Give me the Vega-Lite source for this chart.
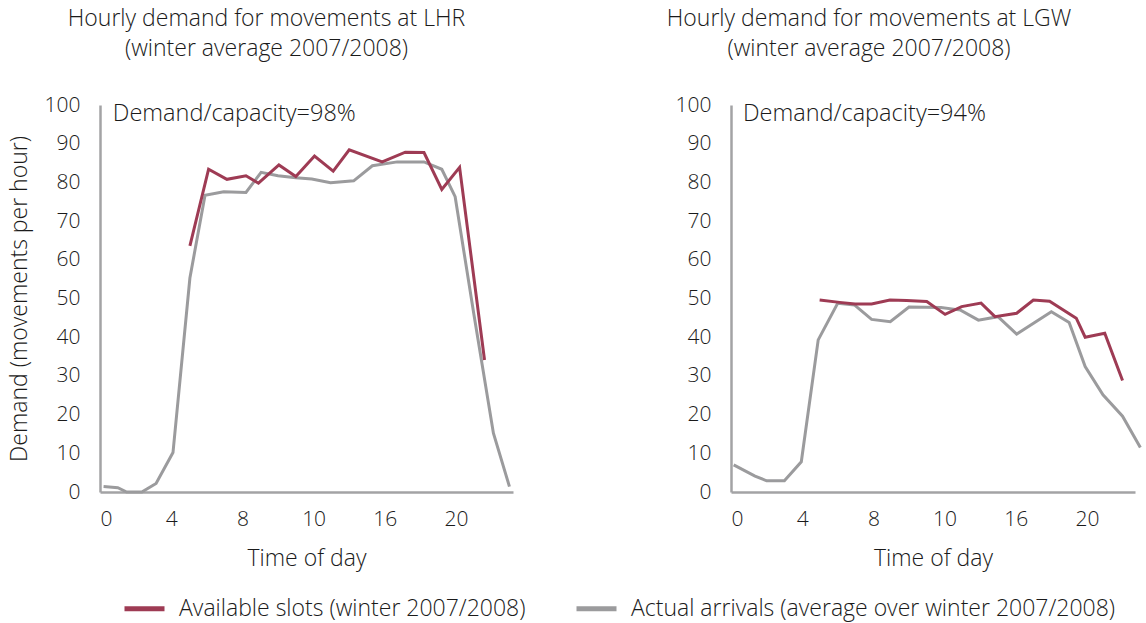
{
  "$schema": "https://vega.github.io/schema/vega-lite/v6.json",
  "padding": {"left": 8, "top": 8, "right": 4, "bottom": 4},
  "datasets": {
    "lines": [
      {"airport": "LHR", "series": "Actual arrivals (average over winter 2007/2008)", "hour": 0.2, "value": 1.4},
      {"airport": "LHR", "series": "Actual arrivals (average over winter 2007/2008)", "hour": 1.0, "value": 1.1},
      {"airport": "LHR", "series": "Actual arrivals (average over winter 2007/2008)", "hour": 1.5, "value": 0},
      {"airport": "LHR", "series": "Actual arrivals (average over winter 2007/2008)", "hour": 2.35, "value": 0},
      {"airport": "LHR", "series": "Actual arrivals (average over winter 2007/2008)", "hour": 3.15, "value": 2.2},
      {"airport": "LHR", "series": "Actual arrivals (average over winter 2007/2008)", "hour": 4.1, "value": 10.2},
      {"airport": "LHR", "series": "Actual arrivals (average over winter 2007/2008)", "hour": 5.05, "value": 55.3},
      {"airport": "LHR", "series": "Actual arrivals (average over winter 2007/2008)", "hour": 5.9, "value": 76.7},
      {"airport": "LHR", "series": "Actual arrivals (average over winter 2007/2008)", "hour": 6.95, "value": 77.6},
      {"airport": "LHR", "series": "Actual arrivals (average over winter 2007/2008)", "hour": 8.2, "value": 77.4},
      {"airport": "LHR", "series": "Actual arrivals (average over winter 2007/2008)", "hour": 9.05, "value": 82.6},
      {"airport": "LHR", "series": "Actual arrivals (average over winter 2007/2008)", "hour": 10.0, "value": 81.7},
      {"airport": "LHR", "series": "Actual arrivals (average over winter 2007/2008)", "hour": 11.0, "value": 81.2},
      {"airport": "LHR", "series": "Actual arrivals (average over winter 2007/2008)", "hour": 11.9, "value": 80.9},
      {"airport": "LHR", "series": "Actual arrivals (average over winter 2007/2008)", "hour": 12.95, "value": 79.9},
      {"airport": "LHR", "series": "Actual arrivals (average over winter 2007/2008)", "hour": 14.25, "value": 80.4},
      {"airport": "LHR", "series": "Actual arrivals (average over winter 2007/2008)", "hour": 15.3, "value": 84.3},
      {"airport": "LHR", "series": "Actual arrivals (average over winter 2007/2008)", "hour": 16.7, "value": 85.3},
      {"airport": "LHR", "series": "Actual arrivals (average over winter 2007/2008)", "hour": 18.2, "value": 85.3},
      {"airport": "LHR", "series": "Actual arrivals (average over winter 2007/2008)", "hour": 19.2, "value": 83.4},
      {"airport": "LHR", "series": "Actual arrivals (average over winter 2007/2008)", "hour": 19.95, "value": 76.3},
      {"airport": "LHR", "series": "Actual arrivals (average over winter 2007/2008)", "hour": 21.0, "value": 46},
      {"airport": "LHR", "series": "Actual arrivals (average over winter 2007/2008)", "hour": 22.1, "value": 15.2},
      {"airport": "LHR", "series": "Actual arrivals (average over winter 2007/2008)", "hour": 23.0, "value": 1.4},
      {"airport": "LGW", "series": "Actual arrivals (average over winter 2007/2008)", "hour": 0.15, "value": 7.0},
      {"airport": "LGW", "series": "Actual arrivals (average over winter 2007/2008)", "hour": 1.35, "value": 4.1},
      {"airport": "LGW", "series": "Actual arrivals (average over winter 2007/2008)", "hour": 2.0, "value": 2.9},
      {"airport": "LGW", "series": "Actual arrivals (average over winter 2007/2008)", "hour": 3.0, "value": 2.9},
      {"airport": "LGW", "series": "Actual arrivals (average over winter 2007/2008)", "hour": 3.95, "value": 7.8},
      {"airport": "LGW", "series": "Actual arrivals (average over winter 2007/2008)", "hour": 4.9, "value": 39.3},
      {"airport": "LGW", "series": "Actual arrivals (average over winter 2007/2008)", "hour": 6.0, "value": 48.8},
      {"airport": "LGW", "series": "Actual arrivals (average over winter 2007/2008)", "hour": 6.95, "value": 48.3},
      {"airport": "LGW", "series": "Actual arrivals (average over winter 2007/2008)", "hour": 7.9, "value": 44.6},
      {"airport": "LGW", "series": "Actual arrivals (average over winter 2007/2008)", "hour": 8.95, "value": 44.0},
      {"airport": "LGW", "series": "Actual arrivals (average over winter 2007/2008)", "hour": 10.0, "value": 47.8},
      {"airport": "LGW", "series": "Actual arrivals (average over winter 2007/2008)", "hour": 11.8, "value": 47.7},
      {"airport": "LGW", "series": "Actual arrivals (average over winter 2007/2008)", "hour": 12.9, "value": 47.0},
      {"airport": "LGW", "series": "Actual arrivals (average over winter 2007/2008)", "hour": 13.9, "value": 44.4},
      {"airport": "LGW", "series": "Actual arrivals (average over winter 2007/2008)", "hour": 15.0, "value": 45.3},
      {"airport": "LGW", "series": "Actual arrivals (average over winter 2007/2008)", "hour": 16.05, "value": 40.8},
      {"airport": "LGW", "series": "Actual arrivals (average over winter 2007/2008)", "hour": 18.0, "value": 46.6},
      {"airport": "LGW", "series": "Actual arrivals (average over winter 2007/2008)", "hour": 19.0, "value": 43.8},
      {"airport": "LGW", "series": "Actual arrivals (average over winter 2007/2008)", "hour": 19.9, "value": 32.4},
      {"airport": "LGW", "series": "Actual arrivals (average over winter 2007/2008)", "hour": 20.9, "value": 25.1},
      {"airport": "LGW", "series": "Actual arrivals (average over winter 2007/2008)", "hour": 22.0, "value": 19.6},
      {"airport": "LGW", "series": "Actual arrivals (average over winter 2007/2008)", "hour": 23.0, "value": 11.5},
      {"airport": "LHR", "series": "Available slots (winter 2007/2008)", "hour": 5.05, "value": 63.6},
      {"airport": "LHR", "series": "Available slots (winter 2007/2008)", "hour": 6.1, "value": 83.4},
      {"airport": "LHR", "series": "Available slots (winter 2007/2008)", "hour": 7.13, "value": 80.8},
      {"airport": "LHR", "series": "Available slots (winter 2007/2008)", "hour": 8.2, "value": 81.7},
      {"airport": "LHR", "series": "Available slots (winter 2007/2008)", "hour": 8.9, "value": 79.8},
      {"airport": "LHR", "series": "Available slots (winter 2007/2008)", "hour": 10.05, "value": 84.5},
      {"airport": "LHR", "series": "Available slots (winter 2007/2008)", "hour": 11.0, "value": 81.5},
      {"airport": "LHR", "series": "Available slots (winter 2007/2008)", "hour": 12.05, "value": 86.8},
      {"airport": "LHR", "series": "Available slots (winter 2007/2008)", "hour": 13.1, "value": 82.9},
      {"airport": "LHR", "series": "Available slots (winter 2007/2008)", "hour": 14.0, "value": 88.4},
      {"airport": "LHR", "series": "Available slots (winter 2007/2008)", "hour": 15.85, "value": 85.3},
      {"airport": "LHR", "series": "Available slots (winter 2007/2008)", "hour": 17.15, "value": 87.8},
      {"airport": "LHR", "series": "Available slots (winter 2007/2008)", "hour": 18.2, "value": 87.7},
      {"airport": "LHR", "series": "Available slots (winter 2007/2008)", "hour": 19.2, "value": 78.2},
      {"airport": "LHR", "series": "Available slots (winter 2007/2008)", "hour": 20.2, "value": 83.9},
      {"airport": "LHR", "series": "Available slots (winter 2007/2008)", "hour": 21.6, "value": 34.1},
      {"airport": "LGW", "series": "Available slots (winter 2007/2008)", "hour": 4.98, "value": 49.6},
      {"airport": "LGW", "series": "Available slots (winter 2007/2008)", "hour": 6.1, "value": 49.0},
      {"airport": "LGW", "series": "Available slots (winter 2007/2008)", "hour": 6.97, "value": 48.6},
      {"airport": "LGW", "series": "Available slots (winter 2007/2008)", "hour": 7.9, "value": 48.6},
      {"airport": "LGW", "series": "Available slots (winter 2007/2008)", "hour": 8.93, "value": 49.6},
      {"airport": "LGW", "series": "Available slots (winter 2007/2008)", "hour": 9.87, "value": 49.5},
      {"airport": "LGW", "series": "Available slots (winter 2007/2008)", "hour": 11.0, "value": 49.2},
      {"airport": "LGW", "series": "Available slots (winter 2007/2008)", "hour": 12.03, "value": 45.9},
      {"airport": "LGW", "series": "Available slots (winter 2007/2008)", "hour": 12.96, "value": 47.9},
      {"airport": "LGW", "series": "Available slots (winter 2007/2008)", "hour": 14.05, "value": 48.8},
      {"airport": "LGW", "series": "Available slots (winter 2007/2008)", "hour": 14.83, "value": 45.3},
      {"airport": "LGW", "series": "Available slots (winter 2007/2008)", "hour": 16.05, "value": 46.2},
      {"airport": "LGW", "series": "Available slots (winter 2007/2008)", "hour": 16.99, "value": 49.6},
      {"airport": "LGW", "series": "Available slots (winter 2007/2008)", "hour": 17.9, "value": 49.3},
      {"airport": "LGW", "series": "Available slots (winter 2007/2008)", "hour": 19.4, "value": 44.9},
      {"airport": "LGW", "series": "Available slots (winter 2007/2008)", "hour": 19.9, "value": 40.0},
      {"airport": "LGW", "series": "Available slots (winter 2007/2008)", "hour": 21.0, "value": 41.0},
      {"airport": "LGW", "series": "Available slots (winter 2007/2008)", "hour": 22.0, "value": 28.8}
    ],
    "notes": [
      {"airport": "LHR", "hour": 0.72, "value": 97.6, "label": "Demand/capacity=98%"},
      {"airport": "LGW", "hour": 0.67, "value": 97.6, "label": "Demand/capacity=94%"}
    ]
  },
  "hconcat": [
    {
      "width": 413,
      "height": 387,
      "title": {"text": ["Hourly demand for movements at LHR", "(winter average 2007/2008)"], "frame": "group", "anchor": "middle", "dx": -40},
      "layer": [
        {
          "data": {"name": "lines"},
          "transform": [{"filter": "datum.airport == 'LHR'"}],
          "mark": {"type": "line", "strokeWidth": 3},
          "encoding": {
            "x": {"field": "hour", "type": "quantitative", "scale": {"domain": [0, 23.2], "nice": false, "zero": false},
                  "axis": {"title": "Time of day", "values": [0, 4, 8, 12, 16, 20], "labelExpr": "datum.value == 12 ? '10' : datum.label"}},
            "y": {"field": "value", "type": "quantitative", "scale": {"domain": [0, 100], "nice": false},
                  "axis": {"title": "Demand (movements per hour)", "values": [0, 10, 20, 30, 40, 50, 60, 70, 80, 90, 100], "labelOverlap": false, "tickCount": 11}},
            "color": {"field": "series", "type": "nominal",
                      "scale": {"domain": ["Available slots (winter 2007/2008)", "Actual arrivals (average over winter 2007/2008)"], "range": ["#9E3B54", "#9B9B9D"]},
                      "legend": {"title": null, "orient": "none", "legendX": 22, "legendY": 481}}
          }
        },
        {
          "data": {"name": "notes"},
          "transform": [{"filter": "datum.airport == 'LHR'"}],
          "mark": {"type": "text", "align": "left", "baseline": "middle", "fontSize": 23.5, "fontWeight": 300, "color": "#1a1a1a"},
          "encoding": {
            "x": {"field": "hour", "type": "quantitative"},
            "y": {"field": "value", "type": "quantitative"},
            "text": {"field": "label"}
          }
        }
      ]
    },
    {
      "width": 404,
      "height": 387,
      "title": {"text": ["Hourly demand for movements at LGW", "(winter average 2007/2008)"], "frame": "group", "anchor": "middle", "dx": -64},
      "layer": [
        {
          "data": {"name": "lines"},
          "transform": [{"filter": "datum.airport == 'LGW'"}],
          "mark": {"type": "line", "strokeWidth": 3},
          "encoding": {
            "x": {"field": "hour", "type": "quantitative", "scale": {"domain": [0, 22.7], "nice": false, "zero": false},
                  "axis": {"title": "Time of day", "values": [0, 4, 8, 12, 16, 20], "labelExpr": "datum.value == 12 ? '10' : datum.label"}},
            "y": {"field": "value", "type": "quantitative", "scale": {"domain": [0, 100], "nice": false},
                  "axis": {"title": null, "values": [0, 10, 20, 30, 40, 50, 60, 70, 80, 90, 100], "labelOverlap": false, "tickCount": 11}},
            "color": {"field": "series", "type": "nominal",
                      "scale": {"domain": ["Available slots (winter 2007/2008)", "Actual arrivals (average over winter 2007/2008)"], "range": ["#9E3B54", "#9B9B9D"]},
                      "legend": {"title": null, "orient": "none", "legendX": 22, "legendY": 481}}
          }
        },
        {
          "data": {"name": "notes"},
          "transform": [{"filter": "datum.airport == 'LGW'"}],
          "mark": {"type": "text", "align": "left", "baseline": "middle", "fontSize": 23.5, "fontWeight": 300, "color": "#1a1a1a"},
          "encoding": {
            "x": {"field": "hour", "type": "quantitative"},
            "y": {"field": "value", "type": "quantitative"},
            "text": {"field": "label"}
          }
        }
      ]
    }
  ],
  "spacing": 150,
  "resolve": {"scale": {"color": "shared"}},
  "config": {
    "font": "Open Sans",
    "view": {"stroke": null},
    "axis": {
      "grid": false, "ticks": false, "domainColor": "#A3A3A5", "domainWidth": 2.5,
      "labelFontSize": 21, "labelFontWeight": 300, "labelColor": "#1a1a1a", "labelOverlap": false,
      "titleFontSize": 23, "titleFontWeight": 300, "titleColor": "#1a1a1a"
    },
    "axisX": {"labelPadding": 16, "titlePadding": 18},
    "axisY": {"labelPadding": 20, "titlePadding": 13},
    "title": {"fontSize": 23, "fontWeight": 300, "color": "#1a1a1a", "lineHeight": 30, "offset": 33},
    "legend": {
      "direction": "horizontal", "symbolType": "stroke", "symbolSize": 1600, "symbolStrokeWidth": 5, "labelLimit": 0,
      "labelFontSize": 23, "labelFontWeight": 300, "labelColor": "#1a1a1a", "labelOffset": 12, "columnPadding": 40
    }
  }
}
